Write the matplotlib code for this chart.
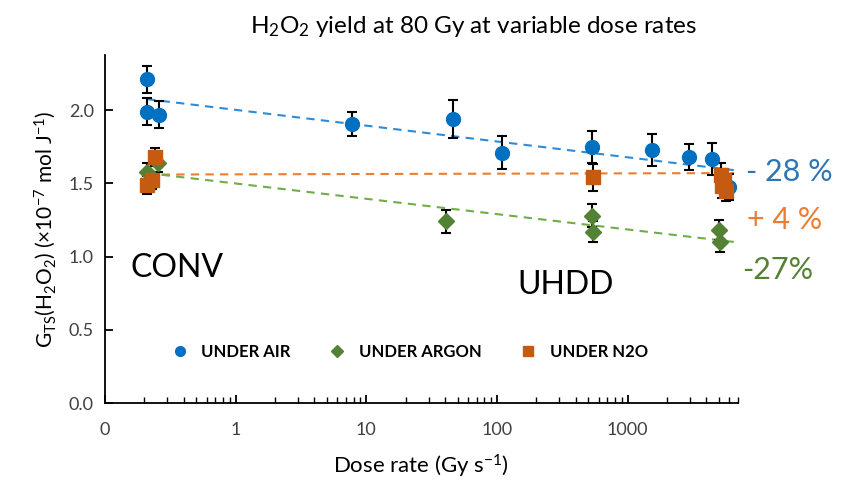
import matplotlib
matplotlib.use("Agg")
import matplotlib.pyplot as plt
from matplotlib.lines import Line2D
from matplotlib.ticker import FixedLocator, FixedFormatter, LogLocator, NullFormatter

plt.rcParams['font.family'] = ['Lato', 'DejaVu Sans']
plt.rcParams['mathtext.default'] = 'regular'

# H2O2 yield, under air
air_rate = [0.21, 0.21, 0.26, 7.8, 46, 110, 530, 1550, 2930, 4400, 6000]
air_g = [2.21, 1.99, 1.97, 1.905, 1.94, 1.71, 1.75, 1.73, 1.68, 1.665, 1.475]
air_err = [0.09, 0.09, 0.09, 0.08, 0.13, 0.11, 0.11, 0.11, 0.09, 0.11, 0.09]

# under argon
ar_rate = [0.21, 0.255, 41, 530, 540, 5000, 5100]
ar_g = [1.58, 1.64, 1.24, 1.28, 1.17, 1.18, 1.10]
ar_err = [0.06, 0.06, 0.08, 0.08, 0.07, 0.07, 0.07]

# under N2O
n2o_rate = [0.21, 0.23, 0.24, 540, 5200, 5500, 5300, 5700]
n2o_g = [1.49, 1.52, 1.68, 1.54, 1.56, 1.52, 1.48, 1.45]
n2o_err = [0.06, 0.06, 0.06, 0.09, 0.08, 0.08, 0.08, 0.07]

# trend lines (end points)
trend_x = [0.21, 6500]
air_trend = [2.075, 1.59]
ar_trend = [1.57, 1.10]
n2o_trend = [1.56, 1.57]

tick_vals = [0.1, 1, 10, 100, 1000]
tick_labels = ['0', '1', '10', '100', '1000']

c_air = '#0070C0'
c_ar = '#548235'
c_n2o = '#C55A11'

fig, ax = plt.subplots(figsize=(8.44, 4.8), dpi=100)
fig.subplots_adjust(left=0.1244, right=0.8744, bottom=0.1604, top=0.885)

# trend lines
ax.plot(trend_x, air_trend, linestyle='--', color='#2E8BD6', linewidth=1.5, dashes=(4, 3), zorder=1)
ax.plot(trend_x, n2o_trend, linestyle='--', color='#ED7D31', linewidth=1.5, dashes=(4, 3), zorder=1)
ax.plot(trend_x, ar_trend, linestyle='--', color='#70AD47', linewidth=1.5, dashes=(4, 3), zorder=1)

ebkw = dict(linestyle='none', ecolor='black', elinewidth=1.5, capsize=3.5, capthick=1.5)
ax.errorbar(air_rate, air_g, yerr=air_err, marker='o', markersize=10, color=c_air,
            label='UNDER AIR', zorder=3, **ebkw)
ax.errorbar(ar_rate, ar_g, yerr=ar_err, marker='D', markersize=8.5, color=c_ar,
            label='UNDER ARGON', zorder=3, **ebkw)
ax.errorbar(n2o_rate, n2o_g, yerr=n2o_err, marker='s', markersize=10, color=c_n2o,
            label='UNDER N2O', zorder=3, **ebkw)

ax.set_xscale('log')
ax.set_xlim(0.1, 7000)
ax.set_ylim(0, 2.375)
ax.xaxis.set_major_locator(FixedLocator(tick_vals))
ax.xaxis.set_major_formatter(FixedFormatter(tick_labels))
ax.xaxis.set_minor_locator(LogLocator(base=10, subs=range(2, 10)))
ax.xaxis.set_minor_formatter(NullFormatter())
ax.set_yticks([0, 0.5, 1.0, 1.5, 2.0])
ax.set_yticklabels(['0.0', '0.5', '1.0', '1.5', '2.0'])

for s in ['top', 'right']:
    ax.spines[s].set_visible(False)
for s in ['left', 'bottom']:
    ax.spines[s].set_linewidth(1.3)
ax.tick_params(axis='both', which='major', direction='in', length=6, width=1.3,
               labelsize=13, labelcolor='#404040', pad=14)
ax.tick_params(axis='y', which='major', pad=8)
ax.tick_params(axis='x', which='minor', direction='in', length=4, width=1)

fig.text(0.561, 0.944, 'H$_2$O$_2$ yield at 80 Gy at variable dose rates', fontsize=17.5,
         ha='center', va='center')
ax.set_xlabel('Dose rate (Gy s$^{-1}$)', fontsize=16, labelpad=10)
ax.set_ylabel('G$_{TS}$(H$_2$O$_2$) (×10$^{-7}$ mol J$^{-1}$)', fontsize=15, labelpad=8)

ax.text(0.04, 0.388, 'CONV', transform=ax.transAxes, fontsize=23, va='center')
ax.text(0.651, 0.339, 'UHDD', transform=ax.transAxes, fontsize=23, va='center')
ax.text(1.012, 0.664, '- 28 %', transform=ax.transAxes, fontsize=22, color='#2E75B6',
        va='center', clip_on=False)
ax.text(1.015, 0.526, '+ 4 %', transform=ax.transAxes, fontsize=22, color='#ED7D31',
        va='center', clip_on=False)
ax.text(1.006, 0.382, '-27%', transform=ax.transAxes, fontsize=22, color='#548235',
        va='center', clip_on=False)

# legend without error bars
handles = [
    Line2D([], [], marker='o', linestyle='none', color=c_air, markersize=7),
    Line2D([], [], marker='D', linestyle='none', color=c_ar, markersize=6),
    Line2D([], [], marker='s', linestyle='none', color=c_n2o, markersize=7),
]
ax.legend(handles, ['UNDER AIR', 'UNDER ARGON', 'UNDER N2O'], loc='center',
          bbox_to_anchor=(0.478, 0.147), ncol=3, frameon=False,
          prop={'weight': 'bold', 'size': 12}, columnspacing=2.05, handletextpad=0.55,
          handlelength=1.5)

fig.savefig('out.png', dpi=100)
